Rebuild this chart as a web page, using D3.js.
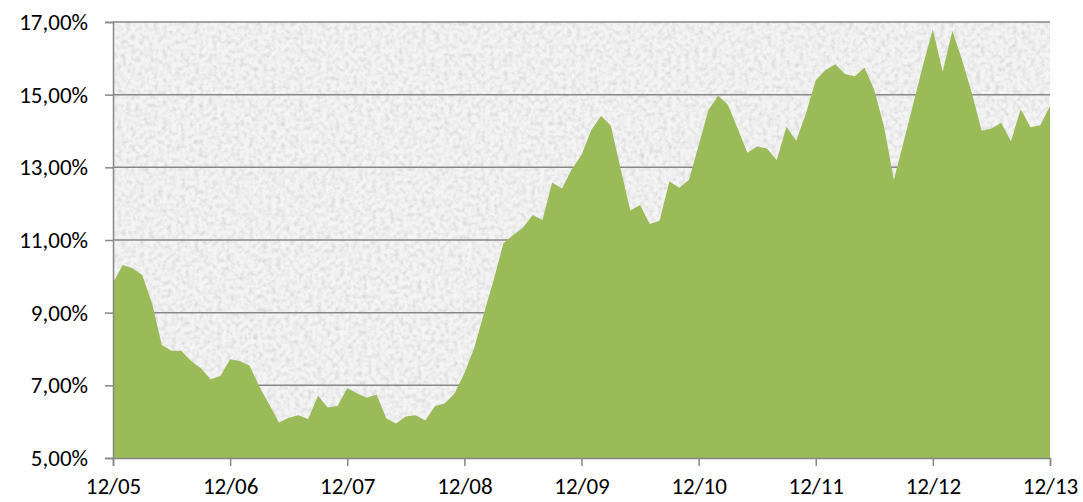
<!DOCTYPE html>
<html>
<head>
<meta charset="utf-8">
<script src="https://cdn.jsdelivr.net/npm/d3@7"></script>
<style>
  body { margin: 0; background: #fff; }
  text { font-family: Carlito, Calibri, Lato, sans-serif; fill: #000; }
</style>
</head>
<body>
<div id="chart"></div>
<script>
// monthly values, 12/05 .. 12/13
var months = d3.range(97);
var values = [
  9.82, 10.31, 10.22, 10.04, 9.26, 8.11, 7.95, 7.95, 7.67, 7.47, 7.17, 7.26,
  7.72, 7.67, 7.54, 6.96, 6.48, 5.98, 6.11, 6.18, 6.07, 6.71, 6.39, 6.43,
  6.92, 6.78, 6.66, 6.75, 6.09, 5.95, 6.14, 6.18, 6.03, 6.43, 6.50, 6.78,
  7.33, 8.02, 8.98, 9.90, 10.91, 11.14, 11.34, 11.69, 11.55, 12.58, 12.42, 12.95,
  13.34, 14.03, 14.41, 14.15, 12.97, 11.81, 11.96, 11.44, 11.53, 12.62, 12.44, 12.65,
  13.60, 14.58, 14.97, 14.72, 14.07, 13.40, 13.57, 13.52, 13.20, 14.12, 13.73, 14.49,
  15.40, 15.68, 15.84, 15.57, 15.51, 15.74, 15.13, 14.12, 12.65, 13.70, 14.76, 15.82,
  16.80, 15.63, 16.76, 15.95, 15.04, 14.01, 14.07, 14.23, 13.72, 14.60, 14.10, 14.16,
  14.69
];
var xLabels = ["12/05", "12/06", "12/07", "12/08", "12/09", "12/10", "12/11", "12/12", "12/13"];
var yTicks = [5, 7, 9, 11, 13, 15, 17];

var width = 1083, height = 502;
var margin = { top: 22, right: 33, bottom: 44, left: 113 };
var w = width - margin.left - margin.right;
var h = height - margin.top - margin.bottom;

var svg = d3.select("#chart").append("svg")
  .attr("width", width)
  .attr("height", height);

// noisy grey texture for plot area
var defs = svg.append("defs");
var f = defs.append("filter").attr("id", "grain")
  .attr("x", 0).attr("y", 0).attr("width", "100%").attr("height", "100%");
f.append("feTurbulence").attr("type", "fractalNoise")
  .attr("baseFrequency", 0.22).attr("numOctaves", 2).attr("seed", 4).attr("result", "n");
f.append("feColorMatrix").attr("in", "n").attr("type", "matrix")
  .attr("values", "0 0 0 0 0.6  0 0 0 0 0.6  0 0 0 0 0.6  1.4 0 0 0 -0.55")
  .attr("result", "c");
f.append("feComposite").attr("in", "c").attr("in2", "SourceGraphic").attr("operator", "over");

var g = svg.append("g")
  .attr("transform", "translate(" + margin.left + "," + margin.top + ")");

var x = d3.scaleLinear().domain([0, 96]).range([0, w]);
var y = d3.scaleLinear().domain([5, 17]).range([h, 0]);

g.append("rect")
  .attr("width", w).attr("height", h)
  .attr("fill", "#f4f4f4")
  .attr("filter", "url(#grain)");

// gridlines
g.selectAll(".grid")
  .data(yTicks.filter(function(d) { return d > 5; }))
  .enter().append("line")
  .attr("x1", 0).attr("x2", w)
  .attr("y1", function(d) { return y(d); })
  .attr("y2", function(d) { return y(d); })
  .attr("stroke", "#878787")
  .attr("stroke-width", 1.5);

// area
var area = d3.area()
  .x(function(d, i) { return x(months[i]); })
  .y0(h)
  .y1(function(d) { return y(d); });

g.append("path")
  .datum(values)
  .attr("d", area)
  .attr("fill", "#9bbb59");

// axes
var yAxis = g.append("g")
  .call(d3.axisLeft(y).tickValues(yTicks).tickSize(8).tickPadding(17)
    .tickFormat(function(d) { return d3.format(".2f")(d).replace(".", ",") + "%"; }));

var xAxis = g.append("g")
  .attr("transform", "translate(0," + h + ")")
  .call(d3.axisBottom(x).tickValues(d3.range(0, 97, 12)).tickSize(8).tickPadding(12)
    .tickFormat(function(d, i) { return xLabels[i]; }));

[yAxis, xAxis].forEach(function(a) {
  a.select(".domain").attr("stroke", "#878787").attr("stroke-width", 1.5);
  a.selectAll(".tick line").attr("stroke", "#878787").attr("stroke-width", 1.5);
  a.selectAll("text").style("font-size", "23px").attr("fill", "#000");
});
</script>
</body>
</html>
